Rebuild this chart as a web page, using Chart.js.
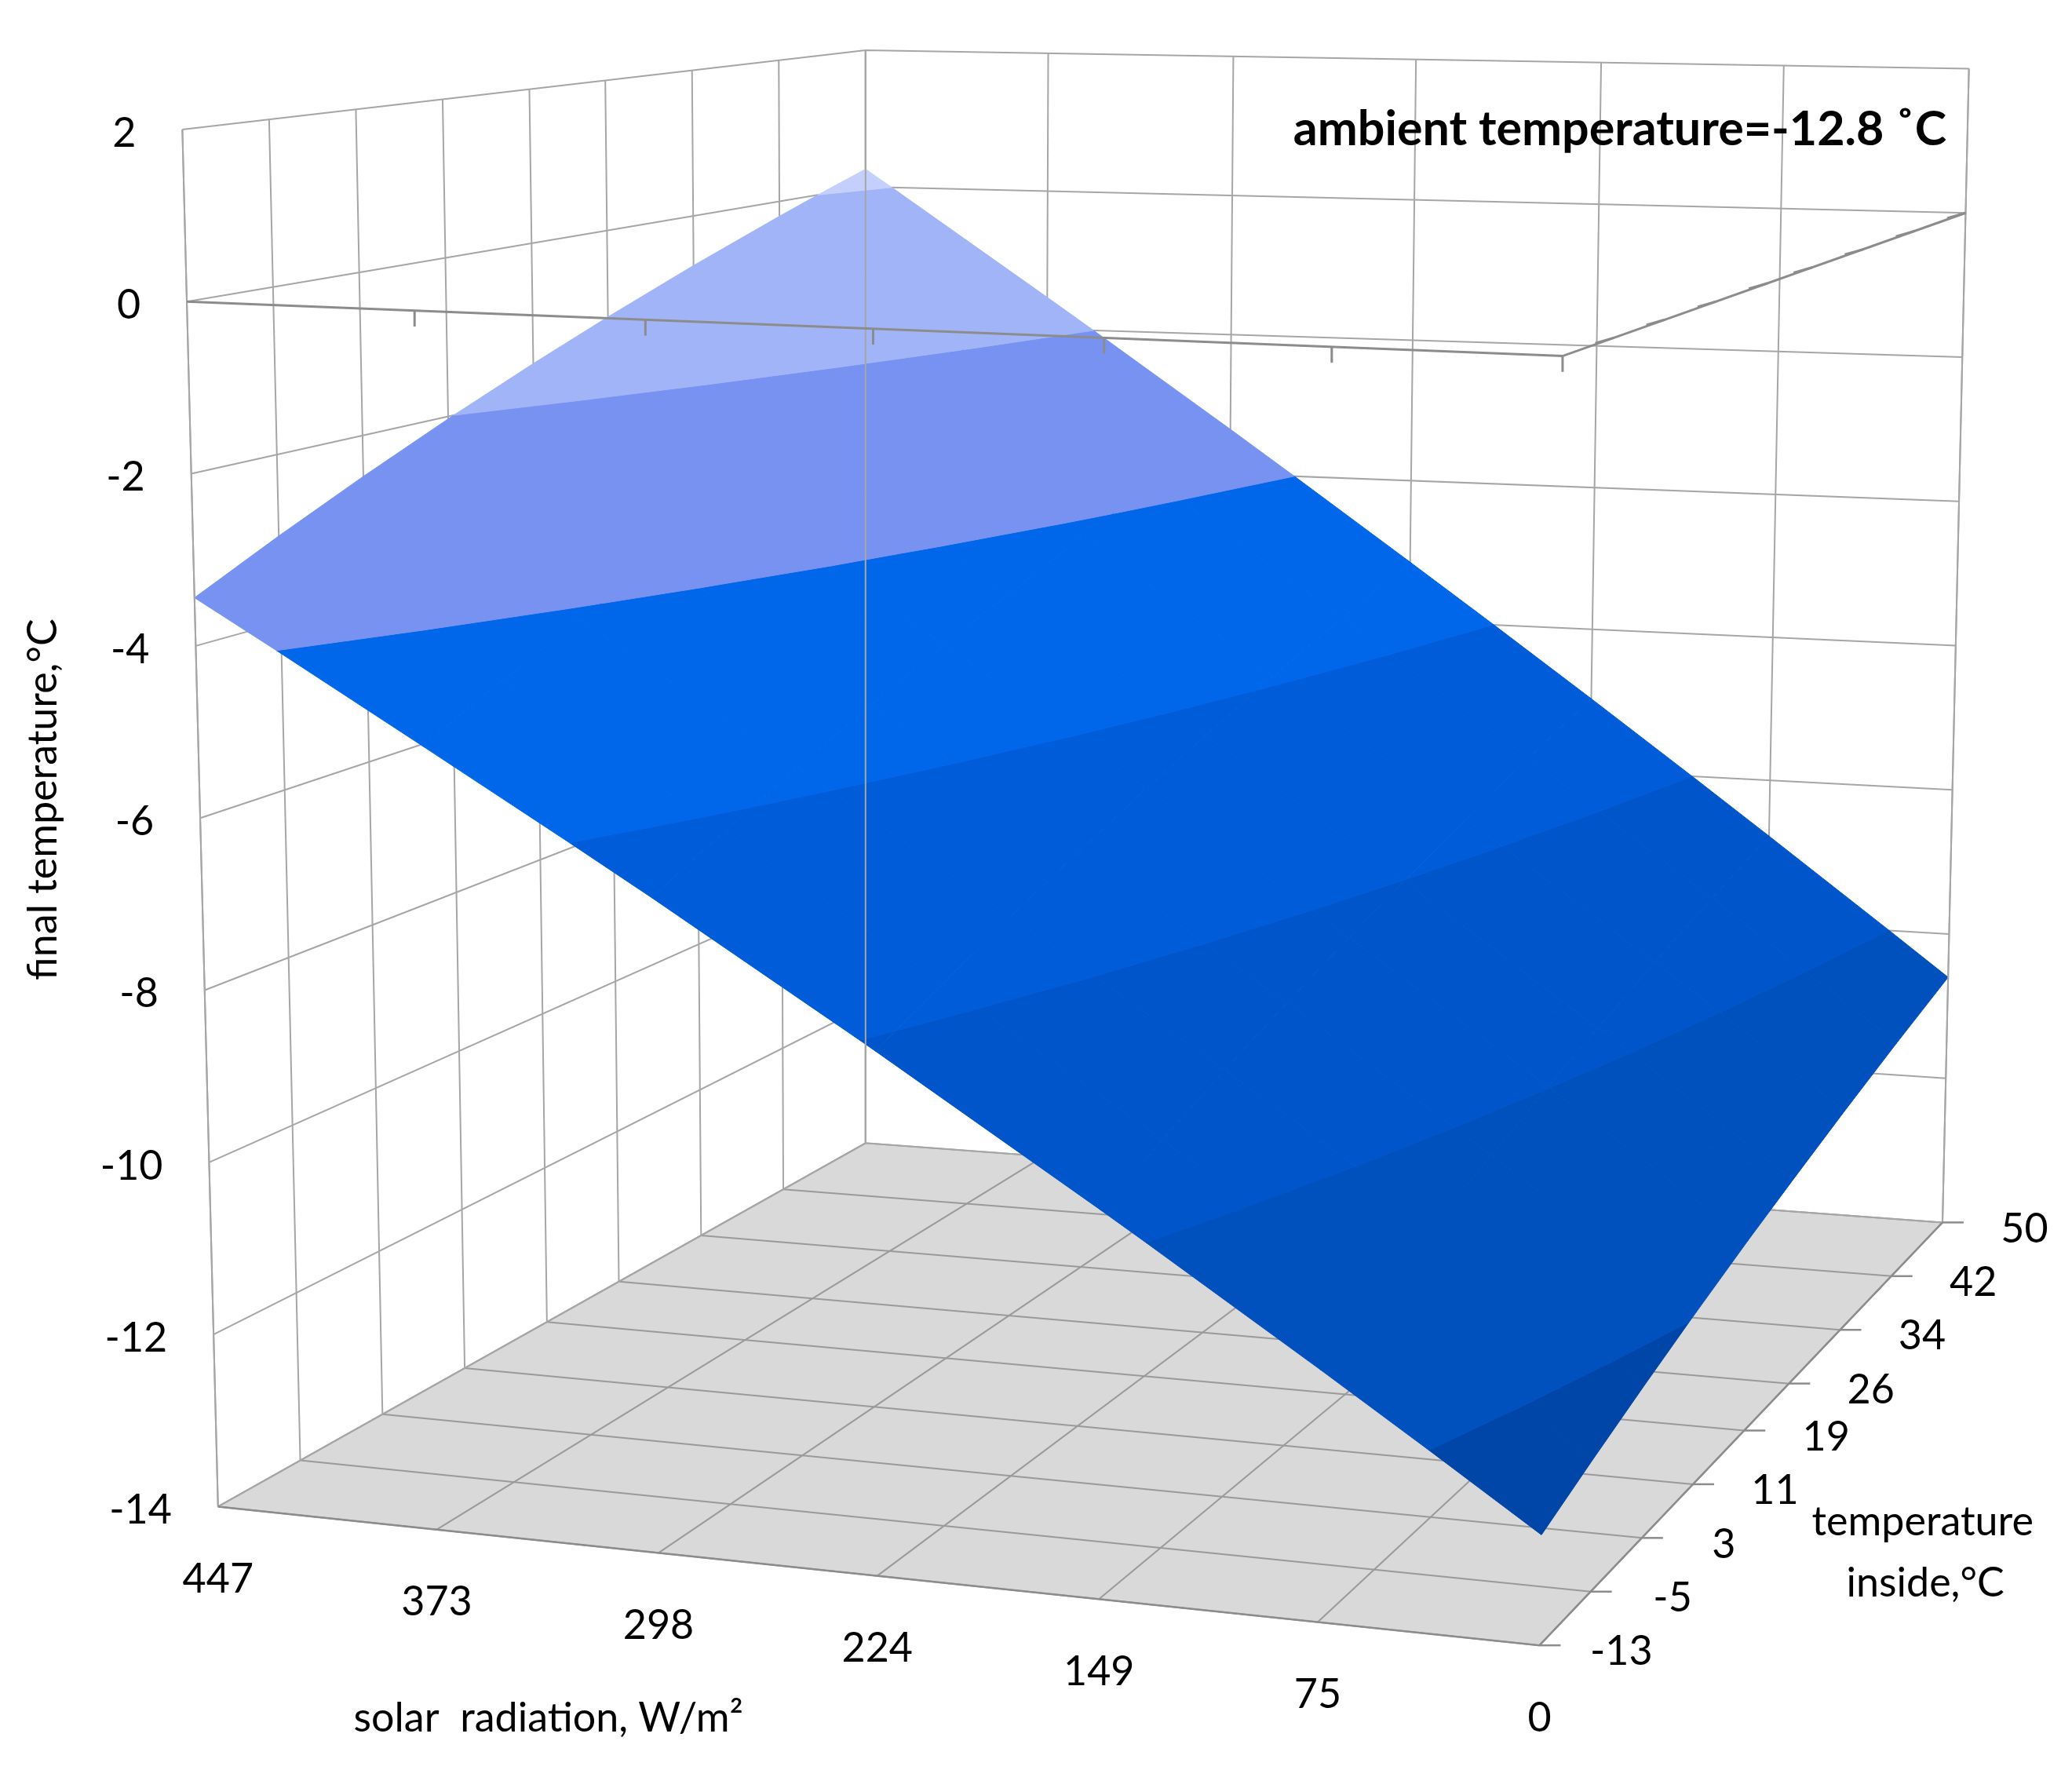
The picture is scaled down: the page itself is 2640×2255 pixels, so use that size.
<!DOCTYPE html>
<html><head><meta charset="utf-8">
<script src="https://cdn.jsdelivr.net/npm/chart.js@4"></script>
<style>html,body{margin:0;padding:0;background:#fff}#wrap{width:2640px;height:2255px}</style>
</head><body><div id="wrap"><canvas id="c"></canvas></div>
<script>
// ---- data ----
const solarTicks = [447, 373, 298, 224, 149, 75, 0];
const insideTicks = [-13, -5, 3, 11, 19, 26, 34, 42, 50];
const zTicks = [-14, -12, -10, -8, -6, -4, -2, 0, 2];
// final temperature: rows = solarTicks, columns = insideTicks
const finalTemp = [
  [-3.44, -2.97, -2.50, -2.03, -1.56, -1.15, -0.68, -0.21, 0.26],
  [-5.00, -4.56, -4.12, -3.68, -3.24, -2.86, -2.42, -1.98, -1.54],
  [-6.56, -6.15, -5.75, -5.34, -4.93, -4.58, -4.17, -3.77, -3.36],
  [-8.11, -7.74, -7.36, -6.99, -6.61, -6.28, -5.91, -5.53, -5.16],
  [-9.68, -9.34, -8.99, -8.65, -8.31, -8.01, -7.67, -7.32, -6.98],
  [-11.23, -10.92, -10.61, -10.30, -9.99, -9.71, -9.40, -9.09, -8.78],
  [-12.80, -12.52, -12.24, -11.96, -11.68, -11.44, -11.16, -10.88, -10.60]
];
const bandColors = ['#0045A8','#0050BE','#0055CA','#005CD8','#0066EA','#7892F2','#A2B4F8','#C4D0FB'];
const titleText = 'ambient temperature=-12.8 ˚C';

// ---- projection (box corners, layout) ----
const C = {
  b00:[165,1140], b10:[1165,1245], b11:[1470,925], b01:[655,865],
  t00:[138,98],  t10:[1185,130],  t11:[1490,52],  t01:[655,38]
};
function lerp(a,b,t){return [a[0]+(b[0]-a[0])*t, a[1]+(b[1]-a[1])*t];}
function P(u,v,w){
  const b = lerp(lerp(C.b00,C.b10,u), lerp(C.b01,C.b11,u), v);
  const t = lerp(lerp(C.t00,C.t10,u), lerp(C.t01,C.t11,u), v);
  return lerp(b,t,w);
}
const uOf = i => (solarTicks[0]-solarTicks[i])/(solarTicks[0]-solarTicks[solarTicks.length-1]);
const vOf = j => (insideTicks[j]-insideTicks[0])/(insideTicks[insideTicks.length-1]-insideTicks[0]);
const wOf = z => (z-zTicks[0])/(zTicks[zTicks.length-1]-zTicks[0]);

const S = 2640/1568;
const plug = {
  id:'surf3d',
  beforeDatasetsDraw(chart){
    const ctx = chart.ctx, xs = chart.scales.x, ys = chart.scales.y;
    const px = p => [xs.getPixelForValue(p[0]), ys.getPixelForValue(p[1])];
    const line = (pts,color,wd) => {ctx.beginPath(); pts.forEach((p,k)=>{const q=px(p); k?ctx.lineTo(q[0],q[1]):ctx.moveTo(q[0],q[1]);}); ctx.strokeStyle=color; ctx.lineWidth=wd; ctx.stroke();};
    const poly = (pts,color) => {ctx.beginPath(); pts.forEach((p,k)=>{const q=px(p); k?ctx.lineTo(q[0],q[1]):ctx.moveTo(q[0],q[1]);}); ctx.closePath(); ctx.fillStyle=color; ctx.fill(); ctx.strokeStyle=color; ctx.lineWidth=1; ctx.stroke();};
    const grid='#A6A6A6', ax='#8C8C8C';
    const nU=solarTicks.length, nV=insideTicks.length;
    // floor
    poly([P(0,0,0),P(1,0,0),P(1,1,0),P(0,1,0)],'#D9D9D9');
    for(let i=0;i<nU;i++) line([P(uOf(i),0,0),P(uOf(i),1,0)],'#9A9A9A',2);
    for(let j=0;j<nV;j++) line([P(0,vOf(j),0),P(1,vOf(j),0)],'#9A9A9A',2);
    // walls
    for(const z of zTicks){const w=wOf(z); line([P(0,0,w),P(0,1,w),P(1,1,w)],grid,2);}
    for(let j=0;j<nV;j++) line([P(0,vOf(j),0),P(0,vOf(j),1)],grid,2);
    for(let i=0;i<nU;i++) line([P(uOf(i),1,0),P(uOf(i),1,1)],grid,2);
    // surface (band-clipped triangles)
    const tris=[];
    for(let i=0;i<nU-1;i++)for(let j=0;j<nV-1;j++){
      const a={u:uOf(i),v:vOf(j),z:finalTemp[i][j]}, b={u:uOf(i+1),v:vOf(j),z:finalTemp[i+1][j]},
            c={u:uOf(i+1),v:vOf(j+1),z:finalTemp[i+1][j+1]}, d={u:uOf(i),v:vOf(j+1),z:finalTemp[i][j+1]};
      tris.push([a,b,c],[a,c,d]);
    }
    const clip=(pg,lvl,keepAbove)=>{const out=[];for(let k=0;k<pg.length;k++){const p=pg[k],q=pg[(k+1)%pg.length];
      const ip=keepAbove?p.z>=lvl:p.z<=lvl, iq=keepAbove?q.z>=lvl:q.z<=lvl;
      if(ip) out.push(p);
      if(ip!==iq){const t=(lvl-p.z)/(q.z-p.z); out.push({u:p.u+(q.u-p.u)*t,v:p.v+(q.v-p.v)*t,z:lvl});}}
      return out;};
    for(const tr of tris){
      for(let b=0;b<zTicks.length-1;b++){
        let pg=clip(tr,zTicks[b],true); if(pg.length<3) continue;
        pg=clip(pg,zTicks[b+1],false); if(pg.length<3) continue;
        poly(pg.map(p=>P(p.u,p.v,wOf(p.z))),bandColors[b]);
      }
    }
    // box edges
    line([P(0,0,0),P(0,0,1)],grid,2); line([P(0,1,0),P(0,1,1)],grid,2); line([P(1,1,0),P(1,1,1)],grid,2);
    line([P(0,0,0),P(1,0,0),P(1,1,0)],ax,2.5);
    // z=0 category axis
    const w0=wOf(0);
    line([P(0,0,w0),P(1,0,w0),P(1,1,w0)],ax,3);
    for(let i=1;i<nU;i++){const p=P(uOf(i),0,w0); line([p,[p[0],p[1]+12]],ax,3);}
    for(let j=1;j<nV;j++){const p=P(1,vOf(j),w0); line([p,[p[0]-14,p[1]+4]],ax,3);}
    for(let j=0;j<nV;j++){const p=P(1,vOf(j),0); line([p,[p[0]+16,p[1]]],ax,2.5);}
    // labels
    ctx.fillStyle='#000';
    const txt=(s,p,align,size,bold)=>{const q=px(p);ctx.font=(bold?'bold ':'')+Math.round(size*S)+'px Lato, "Open Sans", sans-serif';ctx.textAlign=align;ctx.textBaseline='middle';ctx.fillText(s,q[0],q[1]);};
    for(const z of zTicks){const p=P(0,0,wOf(z)); txt(String(z),[p[0]-35,p[1]+3],'right',31);}
    for(let i=0;i<nU;i++){const p=P(uOf(i),0,0); txt(String(solarTicks[i]),[p[0],p[1]+55],'center',31);}
    for(let j=0;j<nV;j++){const p=P(1,vOf(j),0); txt(String(insideTicks[j]),[p[0]+62,p[1]+5],'center',31);}
    txt('solar  radiation, W/m²',[415,1300],'center',31);
    txt('temperature',[1455,1152],'center',31);
    txt('inside,°C',[1457,1198],'center',31);
    txt(titleText,[1473,98],'right',36,true);
    const q=px([33,605]); ctx.save(); ctx.translate(q[0],q[1]); ctx.rotate(-Math.PI/2);
    ctx.font=Math.round(31*S)+'px Lato, "Open Sans", sans-serif'; ctx.textAlign='center'; ctx.textBaseline='middle';
    ctx.fillText('final temperature,°C',0,0); ctx.restore();
  }
};
new Chart(document.getElementById('c'),{
  type:'scatter',
  data:{datasets:[{data:[],pointRadius:0}]},
  options:{responsive:true,maintainAspectRatio:false,animation:false,
    layout:{padding:0},
    plugins:{legend:{display:false},tooltip:{enabled:false}},
    scales:{x:{type:'linear',min:0,max:1568,display:false},
            y:{type:'linear',min:0,max:2255/S,reverse:true,display:false}}},
  plugins:[plug]
});
</script></body></html>
